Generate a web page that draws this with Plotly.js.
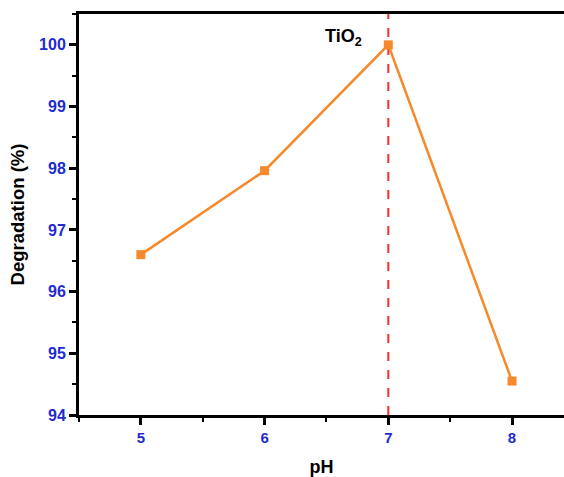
<!DOCTYPE html>
<html><head><meta charset="utf-8">
<script src="https://cdn.plot.ly/plotly-3.0.1.min.js"></script>
<style>html,body{margin:0;padding:0;background:#fff}</style>
</head><body>
<div id="chart" style="width:564px;height:477px"></div>
<script>
var pH = [5, 6, 7, 8];
var degradation = [96.6, 97.96, 100, 94.55];
var xTicks = [5, 6, 7, 8];
var yTicks = [94, 95, 96, 97, 98, 99, 100];
var markerLineX = 7;

var trace = {
  x: pH, y: degradation, type: 'scatter', mode: 'lines+markers',
  line: {color: '#f5892b', width: 2.5},
  marker: {symbol: 'square', size: 9, color: '#f5892b'},
  showlegend: false, cliponaxis: false
};
var layout = {
  width: 564, height: 477,
  margin: {l: 79, r: 0, t: 14, b: 62},
  paper_bgcolor: '#fff', plot_bgcolor: '#fff',
  font: {family: 'Liberation Sans, Arial, sans-serif'},
  xaxis: {
    range: [4.5, 8.42], tickvals: xTicks, ticktext: xTicks.map(String),
    showgrid: false, zeroline: false, showline: true, mirror: true,
    linecolor: '#000', linewidth: 3,
    ticks: 'outside', ticklen: 7, tickwidth: 3, tickcolor: '#000',
    minor: {dtick: 0.5, tick0: 4.5, ticks: 'outside', ticklen: 4, tickwidth: 2, tickcolor: '#000'},
    tickfont: {size: 15, color: '#1f2bd1', family: 'Liberation Sans, Arial, sans-serif', weight: 'bold'},
    title: {text: '<b>pH</b>', font: {size: 18, color: '#000'}, standoff: 16}
  },
  yaxis: {
    range: [94, 100.5], tickvals: yTicks, ticktext: yTicks.map(String),
    showgrid: false, zeroline: false, showline: true, mirror: false,
    linecolor: '#000', linewidth: 3,
    ticks: 'outside', ticklen: 7, tickwidth: 3, tickcolor: '#000',
    minor: {dtick: 0.5, tick0: 94, ticks: 'outside', ticklen: 4, tickwidth: 2, tickcolor: '#000'},
    tickfont: {size: 16, color: '#1f2bd1', family: 'Liberation Sans, Arial, sans-serif', weight: 'bold'},
    title: {text: '<b>Degradation (%)</b>', font: {size: 18.5, color: '#000'}, standoff: 10}
  },
  shapes: [{
    type: 'line', xref: 'x', yref: 'paper', x0: markerLineX, x1: markerLineX, y0: 0, y1: 1,
    line: {color: '#ff2a2a', width: 2, dash: 'dash'}, layer: 'below'
  }],
  annotations: [{
    xref: 'x', yref: 'y', x: 6.64, y: 100.12, showarrow: false,
    text: '<b>TiO<sub>2</sub></b>', font: {size: 18, color: '#000'}
  }]
};
Plotly.newPlot('chart', [trace], layout, {displayModeBar: false, staticPlot: true});
</script>
</body></html>
